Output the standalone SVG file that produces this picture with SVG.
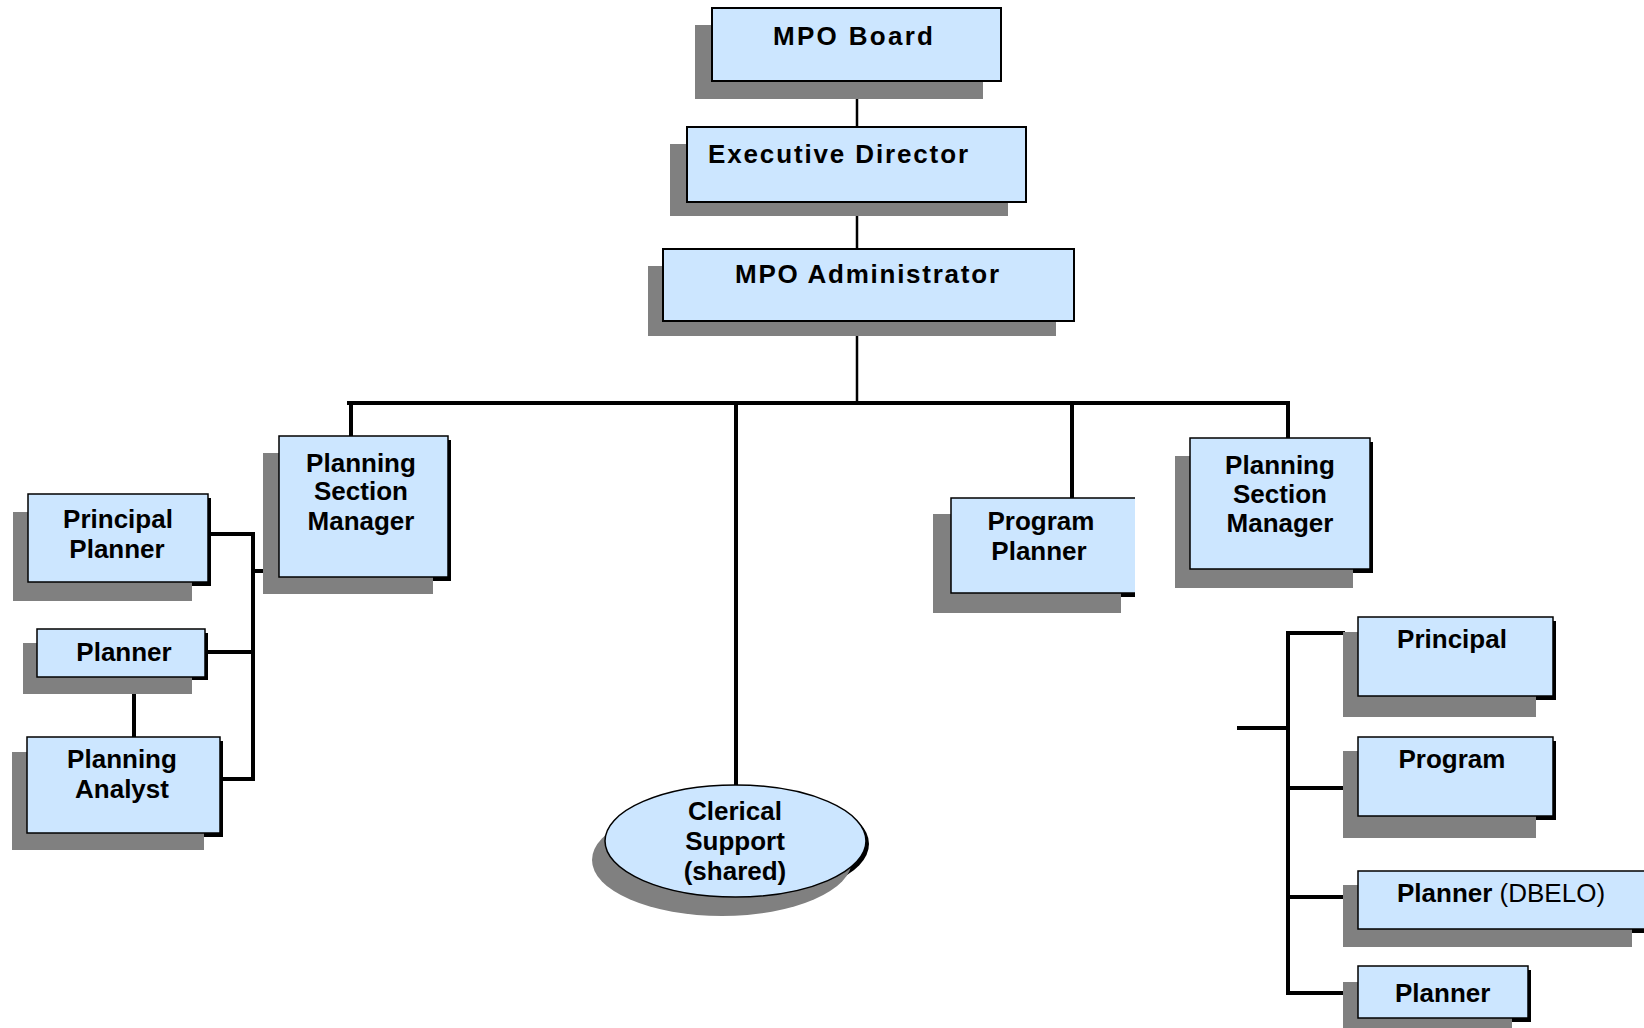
<svg xmlns="http://www.w3.org/2000/svg" width="1644" height="1028" viewBox="0 0 1644 1028">
<style>
.bg{fill:#ffffff}
.sh{fill:#808080}
.blk{fill:#000000}
.box{fill:#cce6ff;stroke:#000;stroke-width:1.5}
.topbox{fill:#cce6ff;stroke:#000;stroke-width:2}
.t{font-family:"Liberation Sans",Arial,sans-serif;font-size:26px;font-weight:bold;fill:#000}
.n{font-weight:normal}
.c{text-anchor:middle}
.ln{stroke:#000;fill:none;stroke-width:4;stroke-linecap:square}
.lm{stroke:#000;fill:none;stroke-width:2.5}
.th{stroke:#000;fill:none;stroke-width:1.2}
</style>
<rect class="bg" x="0" y="0" width="1644" height="1028"/>
<g id="connectors">
<path class="lm" d="M857,81 V127 M857,202 V249 M857,321 V403"/>
<path class="ln" d="M349,403 H1288 M351,403 V436 M736,403 V785 M1072,403 V498 M1288,403 V438"/>
<path class="ln" d="M208,534 H253 V779 H220 M205,652 H253 M253,571 H263"/>
<path class="th" d="M263,571 H279"/>
<path class="th" d="M134,677 V691"/>
<path class="ln" d="M134,691 V737"/>
<path class="ln" d="M1239,728 H1288 M1288,633 V993 M1288,633 H1343 M1288,788 H1343 M1288,897 H1343 M1288,993 H1343"/>
<path class="th" d="M1343,633 H1358 M1343,788 H1358 M1343,897 H1358 M1343,993 H1358"/>
</g>
<g id="mpo-board">
<rect class="sh" x="695" y="25" width="288" height="74"/>
<rect class="topbox" x="712" y="8" width="289" height="73"/>
<text class="t" x="773" y="45" font-size="28" textLength="160" lengthAdjust="spacing">MPO Board</text>
</g>
<g id="executive-director">
<rect class="sh" x="670" y="144" width="338" height="72"/>
<rect class="topbox" x="687" y="127" width="339" height="75"/>
<text class="t" x="708" y="163" textLength="260" lengthAdjust="spacing">Executive Director</text>
</g>
<g id="mpo-administrator">
<rect class="sh" x="648" y="266" width="408" height="70"/>
<rect class="topbox" x="663" y="249" width="411" height="72"/>
<text class="t" x="735" y="283" textLength="264" lengthAdjust="spacing">MPO Administrator</text>
</g>
<g id="psm-left">
<rect class="blk" x="282" y="440" width="169" height="141"/>
<rect class="sh" x="263" y="453" width="170" height="141"/>
<rect class="box" x="279" y="436" width="169" height="141"/>
<text class="t c" x="361" y="472">Planning</text>
<text class="t c" x="361" y="500">Section</text>
<text class="t c" x="361" y="530">Manager</text>
</g>
<g id="principal-planner">
<rect class="blk" x="31" y="498" width="180" height="88"/>
<rect class="sh" x="13" y="512" width="179" height="89"/>
<rect class="box" x="28" y="494" width="180" height="88"/>
<text class="t c" x="118" y="528">Principal</text>
<text class="t c" x="117" y="558">Planner</text>
</g>
<g id="planner-left">
<rect class="blk" x="40" y="633" width="168" height="47"/>
<rect class="sh" x="23" y="643" width="169" height="51"/>
<rect class="box" x="37" y="629" width="168" height="48"/>
<text class="t c" x="124" y="661">Planner</text>
</g>
<g id="planning-analyst">
<rect class="blk" x="30" y="741" width="193" height="96"/>
<rect class="sh" x="12" y="752" width="192" height="98"/>
<rect class="box" x="27" y="737" width="193" height="96"/>
<text class="t c" x="122" y="768">Planning</text>
<text class="t c" x="122" y="798">Analyst</text>
</g>
<g id="clerical-support">
<ellipse class="blk" cx="738.5" cy="844" rx="130.5" ry="56"/>
<ellipse class="sh" cx="722" cy="860" rx="130" ry="56"/>
<ellipse class="box" cx="735.5" cy="841" rx="130.5" ry="56"/>
<text class="t c" x="735" y="820">Clerical</text>
<text class="t c" x="735" y="850">Support</text>
<text class="t c" x="735" y="880">(shared)</text>
</g>
<g id="program-planner">
<rect class="blk" x="954" y="502" width="181" height="95"/>
<rect class="sh" x="933" y="514" width="188" height="99"/>
<path d="M1135,498 H951 V593 H1135 Z" fill="#cce6ff"/>
<path d="M1135,498 H951 V593 H1135" fill="none" stroke="#000" stroke-width="1.5"/>
<text class="t c" x="1041" y="530">Program</text>
<text class="t c" x="1039" y="560">Planner</text>
</g>
<g id="psm-right">
<rect class="blk" x="1193" y="442" width="180" height="131"/>
<rect class="sh" x="1175" y="456" width="178" height="132"/>
<rect class="box" x="1190" y="438" width="180" height="131"/>
<text class="t c" x="1280" y="474">Planning</text>
<text class="t c" x="1280" y="503">Section</text>
<text class="t c" x="1280" y="532">Manager</text>
</g>
<g id="principal-right">
<rect class="blk" x="1361" y="621" width="195" height="79"/>
<rect class="sh" x="1343" y="632" width="193" height="85"/>
<rect class="box" x="1358" y="617" width="195" height="79"/>
<text class="t c" x="1452" y="648">Principal</text>
</g>
<g id="program-right">
<rect class="blk" x="1361" y="741" width="195" height="79"/>
<rect class="sh" x="1343" y="751" width="193" height="87"/>
<rect class="box" x="1358" y="737" width="195" height="79"/>
<text class="t c" x="1452" y="768">Program</text>
</g>
<g id="planner-dbelo">
<rect class="blk" x="1361" y="875" width="300" height="58"/>
<rect class="sh" x="1343" y="885" width="289" height="62"/>
<rect class="box" x="1358" y="871" width="300" height="58"/>
<text class="t" x="1397" y="902">Planner <tspan class="n">(DBELO)</tspan></text>
</g>
<g id="planner-right">
<rect class="blk" x="1361" y="970" width="170" height="52"/>
<rect class="sh" x="1343" y="982" width="169" height="50"/>
<rect class="box" x="1358" y="966" width="170" height="52"/>
<text class="t" x="1395" y="1002" font-size="27">Planner</text>
</g>
</svg>
